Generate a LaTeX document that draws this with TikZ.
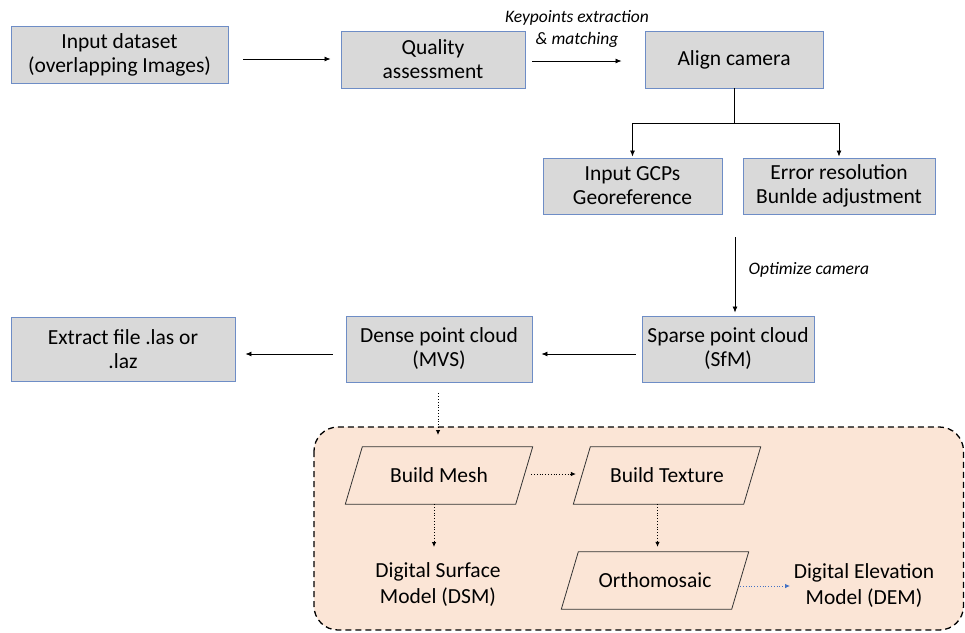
\documentclass[tikz,border=0pt]{standalone}
\usepackage{fontspec}
\setmainfont{Carlito}
\usetikzlibrary{arrows.meta,backgrounds}
\definecolor{boxfill}{HTML}{D9D9D9}
\definecolor{boxline}{HTML}{6E8DC6}
\definecolor{peach}{HTML}{FBE5D6}
\definecolor{bluearrow}{HTML}{4472C4}
\tikzset{
  gbox/.style={draw=boxline, line width=0.9pt, fill=boxfill, align=center, font=\fontsize{21.5}{24}\selectfont, inner sep=2pt},
  pbody/.style={align=center, font=\fontsize{21.5}{24}\selectfont, minimum width=170pt, minimum height=57pt, inner sep=0pt},
  ptext/.style={align=center, font=\fontsize{21.5}{26}\selectfont},
  arr/.style={-{Latex[length=6pt,width=5pt]}, line width=0.8pt},
  darr/.style={-{Latex[length=5pt,width=4.5pt]}, line width=0.8pt, dotted},
  lbl/.style={font=\fontsize{17.5}{22}\selectfont\itshape, align=center},
}
\begin{document}
\begin{tikzpicture}[x=1pt,y=-1pt]
\useasboundingbox (0,0) rectangle (965,632);
% top row
\node[gbox, minimum width=217pt, minimum height=57pt] (input) at (119.5,54.5) {Input dataset\\(overlapping Images)};
\node[gbox, minimum width=184pt, minimum height=57pt] (qual) at (433,59.5) {Quality\\assessment};
\node[gbox, minimum width=178pt, minimum height=57pt] (align) at (734,59.5) {Align camera};
\node[gbox, minimum width=179pt, minimum height=56pt] (gcp) at (632.5,186) {Input GCPs\\Georeference};
\node[gbox, minimum width=192pt, minimum height=56pt] (err) at (839,186) {Error resolution\\Bunlde adjustment};
% middle row
\node[gbox, minimum width=172pt, minimum height=66pt] (sparse) at (728,349) {Sparse point cloud\\(SfM)};
\node[gbox, minimum width=186pt, minimum height=66pt] (dense) at (439,349) {Dense point cloud\\(MVS)};
\node[gbox, minimum width=224pt, minimum height=64pt] (extract) at (123,349) {Extract file .las or\\.laz};
% bottom group
\node[pbody] (mesh) at (439,475.5) {Build Mesh};
\node[pbody] (tex) at (667,475.5) {Build Texture};
\node[pbody] (ortho) at (655,580.5) {Orthomosaic};
\node[ptext] (dsm) at (438,585) {Digital Surface\\Model (DSM)};
\node[ptext] (dem) at (864,586) {Digital Elevation\\Model (DEM)};
\coordinate (grp) at (438,435);
\coordinate (dsmtop) at (434,547);
\coordinate (demleft) at (790,586);
\coordinate (optstart) at (735,237);
\coordinate (split) at (734,123);
\begin{scope}[on background layer]
  \draw[fill=peach, line width=1.3pt, dash pattern=on 6pt off 4pt, rounded corners=24pt] (314,427) rectangle (963.5,630);
  \foreach \n in {mesh,tex,ortho}
    \draw[fill=peach, draw=black!80, line width=0.8pt] ([xshift=-8.5pt]\n.south west) -- ([xshift=8.5pt]\n.north west) -- ([xshift=8.5pt]\n.north east) -- ([xshift=-8.5pt]\n.south east) -- cycle;
\end{scope}
% connectors
\draw[arr] ([xshift=15pt,yshift=-4.5pt]input.east) -- ([xshift=-10pt,yshift=-4.5pt]qual.west |- input.east);
\draw[arr] ([xshift=7pt,yshift=-1.5pt]qual.east) -- node[lbl, midway, yshift=32pt]{Keypoints extraction\\\& matching} ([xshift=-23pt,yshift=-1.5pt]align.west);
\draw[line width=0.8pt] (align.south) -- (split);
\draw[arr] (split) -| ([yshift=1pt]gcp.north);
\draw[arr] (split) -| ([yshift=1pt]err.north);
\draw[arr] (optstart) -- node[lbl, midway, right=10pt, yshift=5pt]{Optimize camera} ([xshift=7pt,yshift=3pt]sparse.north);
\draw[arr] ([xshift=-6pt,yshift=-5pt]sparse.west) -- ([xshift=9pt,yshift=-5pt]dense.east);
\draw[arr] ([xshift=-13pt,yshift=-5pt]dense.west) -- ([xshift=10pt,yshift=-5pt]extract.east);
\draw[darr] ([xshift=-1pt,yshift=-11pt]dense.south) -- (grp);
\draw[darr] ([xshift=7pt,yshift=1.5pt]mesh.east) -- ([xshift=-6pt,yshift=1.5pt]tex.west);
\draw[darr] ([xshift=-5pt]mesh.south) -- (dsmtop);
\draw[darr] ([xshift=-9.5pt]tex.south) -- ([xshift=2.5pt,yshift=5pt]ortho.north);
\draw[darr, draw=bluearrow] ([yshift=-5.5pt]ortho.east) -- (demleft);
\end{tikzpicture}
\end{document}
